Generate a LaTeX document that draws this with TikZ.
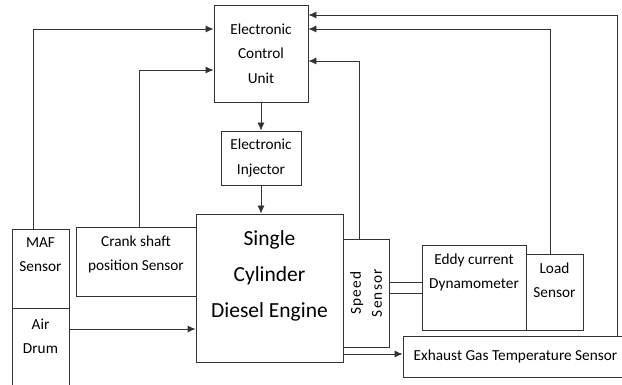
\documentclass[tikz,border=0pt]{standalone}
\usepackage{fontspec}
\setmainfont{Carlito}
\usetikzlibrary{arrows.meta}

\begin{document}
\begin{tikzpicture}[x=1pt, y=-1pt,
  block/.style={rectangle, draw=black!80, line width=0.8pt, inner sep=0pt, align=center, font=\fontsize{15.3}{24.5}\selectfont},
  inside/.style={anchor=north, inner sep=0pt, align=center, yshift=-9pt, font=\fontsize{15.3}{24}\selectfont},
  link/.style={draw=black!80, line width=0.8pt, ->, >={Latex[length=8pt,width=7pt]}}
]
  \useasboundingbox (0,0) rectangle (622,385);
  % control side
  \node[block, minimum width=94pt, minimum height=97pt] (ecu) at (261,53.5) {Electronic\\Control\\Unit};
  \node[block, minimum width=80pt, minimum height=54pt] (inj) at (261,158) {Electronic\\Injector};
  % engine and sensors
  \node[block, minimum width=147pt, minimum height=148pt,
    label={[inner sep=0pt, align=center, yshift=12pt, font=\fontsize{21.5}{36}\selectfont]center:Single\\Cylinder\\Diesel Engine}] (engine) at (269.5,288) {};
  \node[block, minimum width=57pt, minimum height=79pt, label={[inside]north:MAF\\Sensor}] (maf) at (40.5,268.5) {};
  \node[block, minimum width=57pt, minimum height=87pt, label={[inside, yshift=-2pt]north:Air\\Drum}] (air) at (40.5,351.5) {};
  \node[block, minimum width=120pt, minimum height=69pt, label={[inside]north:Crank shaft\\position Sensor}] (crank) at (136,261.5) {};
  \node[block, minimum width=46pt, minimum height=108pt,
    label={[inner sep=0pt, align=center, rotate=90, font=\fontsize{15.3}{21}\selectfont\addfontfeature{LetterSpace=8}]center:Speed\\Sensor}] (speed) at (366,293) {};
  \node[block, minimum width=104pt, minimum height=85pt, label={[inside]north:Eddy current\\Dynamometer}] (dyn) at (474,287.5) {};
  \node[block, minimum width=57pt, minimum height=76pt, label={[inside]north:Load\\Sensor}] (load) at (554.5,292) {};
  \node[block, minimum width=225pt, minimum height=41pt] (exh) at (515.5,356.5) {Exhaust Gas Temperature Sensor};
  % connections
  \draw[link] (ecu) -- (inj);
  \draw[link] (inj.south) -- (inj.south |- engine.north);
  \draw[link] ([xshift=-7.5pt]maf.north) |- ([yshift=24.5pt]ecu.west);
  \draw[link] ([xshift=3pt]crank.north) |- ([yshift=-16.5pt]ecu.west);
  \draw[link] ([yshift=22.5pt]air.east) coordinate (a1) -- (a1 -| engine.west);
  \draw[link] ([xshift=-7pt]speed.north) |- ([yshift=-7.5pt]ecu.east);
  \draw[link] ([xshift=-4.5pt]load.north) |- ([yshift=24.5pt]ecu.east);
  \draw[link] ([xshift=101.5pt]exh.north) |- ([yshift=38.5pt]ecu.east);
  \draw[link] ([yshift=-66pt]engine.east) coordinate (e1) -- (e1 -| exh.west);
  \draw[draw=black!80, line width=0.8pt] ([yshift=11pt]speed.east) coordinate (s1) -- (s1 -| dyn.west);
  \draw[draw=black!80, line width=0.8pt] (speed.east) -- (speed.east -| dyn.west);
\end{tikzpicture}
\end{document}
